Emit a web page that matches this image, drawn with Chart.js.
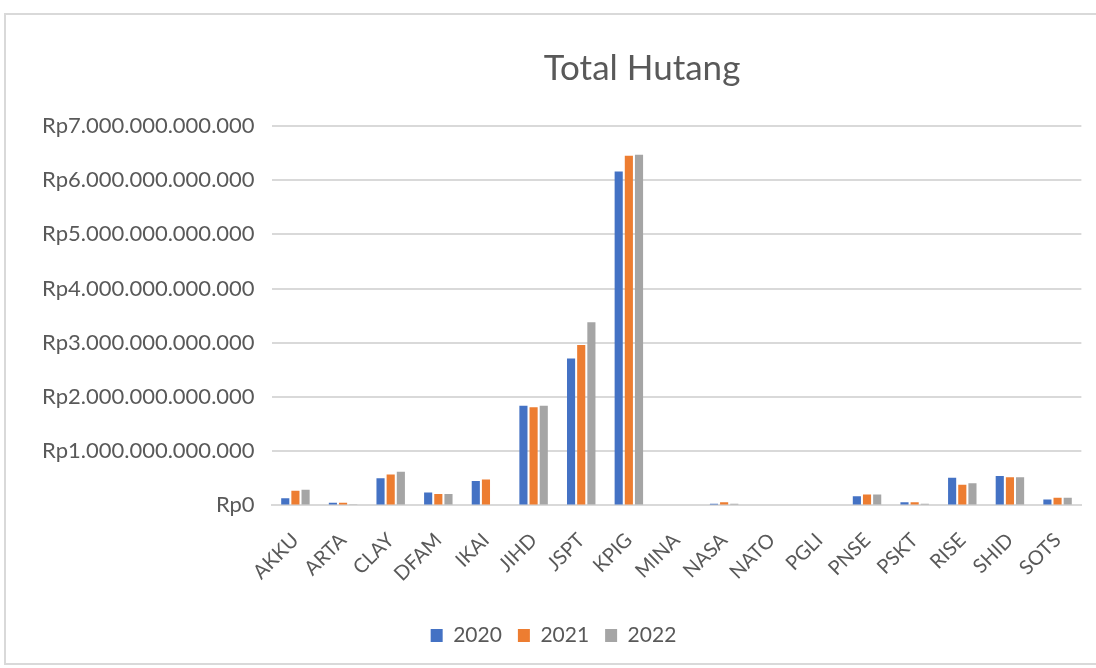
<!DOCTYPE html>
<html>
<head>
<meta charset="utf-8">
<script src="https://cdn.jsdelivr.net/npm/chart.js@4.4.0/dist/chart.umd.min.js"></script>
<style>
  html, body { margin: 0; padding: 0; background: #ffffff; width: 1096px; height: 668px; overflow: hidden; }
  #frame { position: absolute; left: 4px; top: 13px; width: 1100px; height: 652px; border: 2px solid #d9d9d9; box-sizing: border-box; background: #fff; }
  #wrap { position: absolute; left: 0; top: 0; width: 1092px; height: 650px; }
</style>
</head>
<body>
<div id="frame"><div id="wrap"><canvas id="c"></canvas></div></div>
<script>
const categories = ["AKKU","ARTA","CLAY","DFAM","IKAI","JIHD","JSPT","KPIG","MINA","NASA","NATO","PGLI","PNSE","PSKT","RISE","SHID","SOTS"];
const seriesNames = ["2020","2021","2022"];
const values2020 = [130000000000, 50000000000, 500000000000, 240000000000, 450000000000, 1840000000000, 2710000000000, 6160000000000, 0, 30000000000, 0, 0, 170000000000, 60000000000, 510000000000, 540000000000, 110000000000];
const values2021 = [270000000000, 50000000000, 570000000000, 210000000000, 480000000000, 1810000000000, 2960000000000, 6450000000000, 0, 60000000000, 0, 0, 200000000000, 60000000000, 380000000000, 520000000000, 140000000000];
const values2022 = [290000000000, 10000000000, 620000000000, 210000000000, 0, 1840000000000, 3380000000000, 6470000000000, 0, 30000000000, 0, 0, 200000000000, 30000000000, 410000000000, 520000000000, 140000000000];
const yTickValues = [0, 1000000000000, 2000000000000, 3000000000000, 4000000000000, 5000000000000, 6000000000000, 7000000000000];
const chartTitle = "Total Hutang";
const colors = ["#4472C4", "#ED7D31", "#A5A5A5"];

function fmtRp(v) {
  const s = Math.round(v).toString().replace(/\B(?=(\d{3})+(?!\d))/g, ".");
  return "Rp" + s;
}

const FONT = "Lato, 'Open Sans', sans-serif";

const titlePlugin = {
  id: 'customTitle',
  afterDraw(chart) {
    const ctx = chart.ctx;
    ctx.save();
    ctx.font = "35px " + FONT;
    ctx.fillStyle = "#595959";
    ctx.textAlign = "center";
    ctx.textBaseline = "middle";
    ctx.fillText(chartTitle, 636, 54);
    ctx.restore();
  }
};

new Chart(document.getElementById('c'), {
  type: 'bar',
  data: {
    labels: categories,
    datasets: [
      { label: seriesNames[0], data: values2020, backgroundColor: colors[0] },
      { label: seriesNames[1], data: values2021, backgroundColor: colors[1] },
      { label: seriesNames[2], data: values2022, backgroundColor: colors[2] }
    ]
  },
  options: {
    responsive: true,
    maintainAspectRatio: false,
    animation: false,
    datasets: { bar: { categoryPercentage: 0.64, barPercentage: 0.8 } },
    layout: { padding: { left: 19, right: 16, top: 111, bottom: 9 } },
    plugins: {
      title: { display: false },
      tooltip: { enabled: false },
      legend: {
        position: 'bottom',
        labels: {
          boxWidth: 12, boxHeight: 13, padding: 16,
          color: "#595959",
          font: { family: FONT, size: 21 }
        }
      }
    },
    scales: {
      x: {
        grid: { display: false, drawTicks: false },
        border: { display: true, color: "#d9d9d9", width: 2 },
        ticks: {
          color: "#595959",
          font: { family: FONT, size: 20 },
          maxRotation: 45, minRotation: 45,
          padding: 23,
          autoSkip: false
        }
      },
      y: {
        min: 0, max: 7000000000000,
        afterBuildTicks(scale) { scale.ticks = yTickValues.map(v => ({ value: v })); },
        grid: { color: "#d9d9d9", lineWidth: 2, drawTicks: false },
        border: { display: false },
        ticks: {
          color: "#595959",
          font: { family: FONT, size: 22 },
          padding: 17,
          callback: (v) => fmtRp(v)
        }
      }
    }
  },
  plugins: [titlePlugin]
});
</script>
</body>
</html>
